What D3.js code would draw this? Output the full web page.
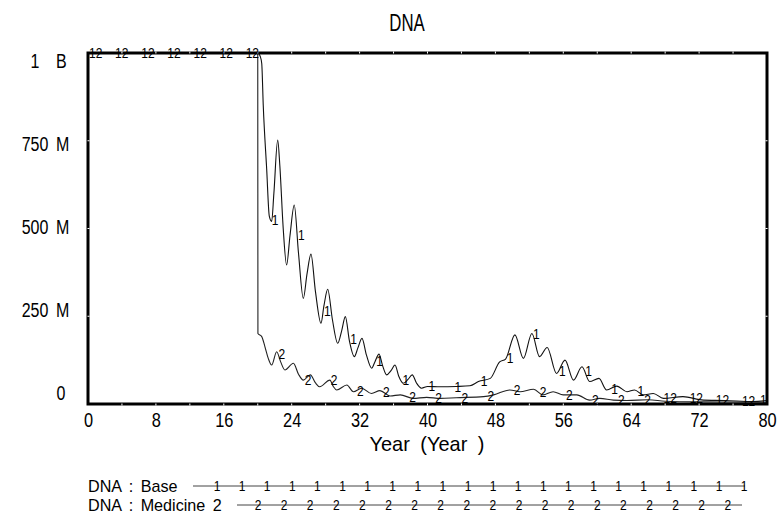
<!DOCTYPE html>
<html><head><meta charset="utf-8">
<script src="https://cdn.jsdelivr.net/npm/d3@7"></script>
<style>body{margin:0;background:#fff}svg{display:block}</style>
</head><body>
<svg id="c" width="779" height="521"></svg>
<script>
// ---- data (values in millions) ----
const baseYears  = [0,20,20.3,20.47,20.65,21.05,21.36,21.64,21.9,22.35,22.6,23.0,23.4,23.8,24.3,24.8,25.37,25.8,26.27,26.8,27.45,27.8,28.24,28.8,29.42,29.9,30.32,30.8,31.38,31.8,32.28,32.8,33.42,33.8,34.29,34.7,35.19,35.7,36.17,36.6,37.15,37.7,38.2,38.7,39.3,40,41.5,43.4,45,46.0,47.4,48.5,49.2,50.3,51.3,52.3,53.2,54.1,55.2,56.2,57.2,58.2,59.1,60.2,61.1,62.3,63.5,64.4,65.4,66.6,67.8,70.1,72.5,75,78.4,80];
const baseValues = [1000,1000,990,970,850,670,535,520,600,752,680,500,396,480,567,430,301,370,427,320,230,280,327,240,173,210,249,180,135,160,187,140,102,120,142,110,83,95,111,80,59,70,83,60,45,50,49,50,52,64,73,120,128,197,130,201,135,161,87,125,68,106,64,73,40,51,35,40,26,30,16,21,11,10,7,10];
const medYears   = [0,20,20.02,20.47,20.85,21.24,21.64,22.23,22.7,23.2,24.2,24.8,25.37,26.2,26.8,27.3,28.5,28.9,29.3,30.5,31.26,32.25,33.4,34.4,35.6,36.8,38.3,39.9,41.5,43.4,46.6,47.8,49.7,50.9,52.5,53.6,54.8,56.0,57.6,59.1,60.3,61.9,63.5,66,68,72,80];
const medValues  = [1000,1000,201,192,163,130,111,149,120,97,116,85,68,83,60,49,68,50,40,54,35,45,30,38,23,26,16,19,16,18,21,26,40,35,42,26,35,26,26,11,16,11,10,12,8,6,5];
const xTickValues = [0,8,16,24,32,40,48,56,64,72,80];
const xMinorTicks = [0,4,8,12,16,20,24,28,32,36,40,44,48,52,56,60,64,68,72,76,80];
const yTickValues = [0,250,500,750,1000];
const yTickLabels = ["0","250 M","500 M","750 M","1 B"];
const seriesNames = ["DNA : Base","DNA : Medicine 2"];
const markerChars = ["1","2"];
const titleText = "DNA";
const xTitle = "Year (Year )";

// ---- layout ----
const L=88,R=767,T=53,B=404;
const FONT = "'Liberation Sans', Arial, sans-serif";
const svg = d3.select("#c");
const x = d3.scaleLinear().domain([0,80]).range([L,R]);
const y = d3.scaleLinear().domain([0,1000]).range([B,T]);
const yLab = d3.scaleLinear().domain([0,1000]).range([393,61]);

function txt(g, s, px, py, size, anchor, sx, wordSp){
  const gg = g.append("g").attr("transform",`translate(${px},${py}) scale(${sx},1)`);
  const t = gg.append("text").attr("x",0).attr("y",0).attr("font-family",FONT)
    .attr("font-size",size).attr("text-anchor",anchor).attr("fill","#000")
    .attr("xml:space","preserve").style("white-space","pre").text(s);
  if(wordSp) t.style("word-spacing", (wordSp/sx)+"px");
  return t;
}

// title
txt(svg, titleText, 407, 31, 24, "middle", 0.7);

// data lines
const line = d3.line().curve(d3.curveMonotoneX).x(d=>x(d[0])).y(d=>y(d[1]));
const baseData = baseYears.map((t,i)=>[t,baseValues[i]]);
const medData  = medYears.map((t,i)=>[t,medValues[i]]);
svg.append("path").attr("d",line(medData)).attr("fill","none").attr("stroke","#222").attr("stroke-width",1.1);
svg.append("path").attr("d",line(baseData)).attr("fill","none").attr("stroke","#111").attr("stroke-width",1.1);

// frame
svg.append("rect").attr("x",L).attr("y",T).attr("width",R-L).attr("height",B-T)
  .attr("fill","none").attr("stroke","#000").attr("stroke-width",3);

// white tick notches in the frame
const notch = svg.append("g").attr("stroke","#fff").attr("stroke-width",1);
xMinorTicks.slice(1,-1).forEach(t=>{
  notch.append("line").attr("x1",x(t)).attr("x2",x(t)).attr("y1",B-0.5).attr("y2",B+1.5);
  notch.append("line").attr("x1",x(t)).attr("x2",x(t)).attr("y1",T-1.5).attr("y2",T+0.5);
});
yTickValues.slice(1,-1).forEach(v=>{
  notch.append("line").attr("x1",L-0.5).attr("x2",L+1.5).attr("y1",y(v)).attr("y2",y(v));
  notch.append("line").attr("x1",R-1.5).attr("x2",R+0.5).attr("y1",y(v)).attr("y2",y(v));
});

// y labels
yTickValues.forEach((v,i)=>{
  const parts = yTickLabels[i].split(" ");
  const cy = yLab(v)+7;
  if(parts.length===1){ txt(svg, parts[0], 61, cy, 20, "middle", 0.8); }
  else { txt(svg, parts[0], 35, cy, 20, "middle", 0.8); txt(svg, parts[1], 56, cy, 20, "start", 0.8); }
});

// x axis labels
const xa = svg.append("g").attr("transform",`translate(0,${B})`)
  .call(d3.axisBottom(x).tickValues(xTickValues).tickSize(0).tickFormat(d3.format("d")));
xa.select(".domain").remove();
xa.selectAll("text").attr("y",23).attr("dy",0).attr("font-family",FONT).attr("font-size",21)
  .attr("fill","#000").attr("transform","scale(0.78,1)");
txt(svg, xTitle, 427, 451, 21, "middle", 0.95, 5);

// markers on the lines
function valAt(ys, vs, t){
  const i = d3.bisectRight(ys, t);
  if(i<=0) return vs[0];
  if(i>=ys.length) return vs[vs.length-1];
  const t0=ys[i-1], t1=ys[i];
  return vs[i-1]+(vs[i]-vs[i-1])*(t-t0)/(t1-t0);
}
const mk = svg.append("g");
const nMark = 26, charW = 6.8;
for(let k=0;k<=nMark;k++){
  const t = k*80/nMark;
  const px = Math.min(x(t)+1, R-7);
  const y1 = y(valAt(baseYears,baseValues,t));
  const y2 = y(valAt(medYears,medValues,t+0.8));
  const show2 = px+charW < R-5;
  if(Math.abs(y1-y2)<5 && show2){
    txt(mk, markerChars[0]+markerChars[1], px, y1+5, 15, "start", 0.8);
  } else {
    txt(mk, markerChars[0], px, y1+5, 15, "start", 0.8);
    if(show2) txt(mk, markerChars[1], px+charW, y2+5, 15, "start", 0.8);
  }
}

// legend
const legY = [486,505];
const legLine = [[193,745],[237,742]];
const legMk = [[217,25.1,22],[258,26.1,19]];
seriesNames.forEach((n,i)=>{
  txt(svg, n, 88, legY[i]+6, 17, "start", 0.95, 3);
  svg.append("line").attr("x1",legLine[i][0]).attr("x2",legLine[i][1]).attr("y1",legY[i]).attr("y2",legY[i])
    .attr("stroke","#444").attr("stroke-width",1);
  for(let j=0;j<legMk[i][2];j++){
    txt(svg, markerChars[i], legMk[i][0]+legMk[i][1]*j, legY[i]+5, 15, "middle", 0.8);
  }
});
</script>
</body></html>
